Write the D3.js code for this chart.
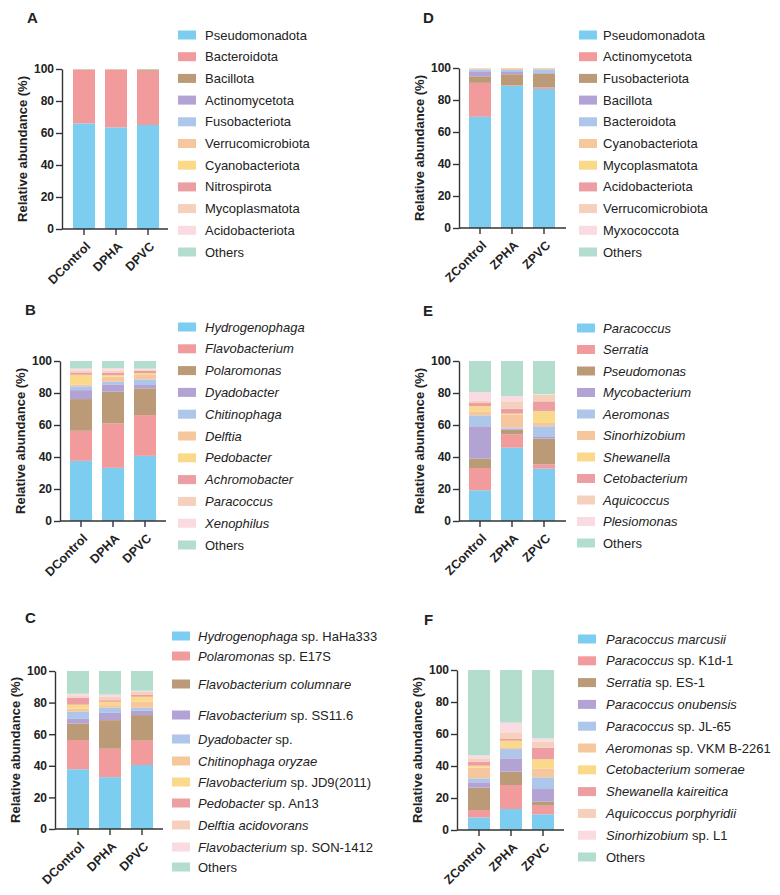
<!DOCTYPE html>
<html>
<head>
<meta charset="utf-8">
<script src="https://cdn.jsdelivr.net/npm/d3@7"></script>
<style>
  body { margin: 0; background: #fff; }
  text { font-family: "Liberation Sans", Arial, sans-serif; fill: #222; }
</style>
</head>
<body>
<svg id="chart" width="780" height="895"></svg>
<script>
// groups on the x axis
const groupsD = ["DControl", "DPHA", "DPVC"];
const groupsZ = ["ZControl", "ZPHA", "ZPVC"];
const yTicks = [0, 20, 40, 60, 80, 100];

// one colour per stack position (bottom -> top)
const palette = ["#7dcdf1", "#f29b9c", "#bb9a78", "#b3a3d4", "#adc6ea", "#f6c69c",
                 "#fbd98b", "#ec9ea2", "#f5d0bd", "#fadbe1", "#b3decd"];

// names use *...* for the italic part
const taxaA = ["Pseudomonadota", "Bacteroidota", "Bacillota", "Actinomycetota", "Fusobacteriota",
  "Verrucomicrobiota", "Cyanobacteriota", "Nitrospirota", "Mycoplasmatota", "Acidobacteriota", "Others"];
const valuesA = [
  [66.0, 33.5, 0.2, 0.1, 0.05, 0.03, 0.02, 0.02, 0.02, 0.01, 0.05],
  [63.5, 36.1, 0.15, 0.05, 0.05, 0.03, 0.02, 0.02, 0.02, 0.01, 0.05],
  [65.0, 33.9, 0.8, 0.05, 0.05, 0.03, 0.02, 0.02, 0.02, 0.01, 0.1]
];

const taxaB = ["*Hydrogenophaga*", "*Flavobacterium*", "*Polaromonas*", "*Dyadobacter*", "*Chitinophaga*",
  "*Delftia*", "*Pedobacter*", "*Achromobacter*", "*Paracoccus*", "*Xenophilus*", "Others"];
const valuesB = [
  [37.6, 18.8, 19.8, 5.6, 2.4, 1.2, 6.0, 1.4, 1.0, 1.5, 4.7],
  [33.2, 27.8, 19.8, 4.6, 1.6, 3.2, 1.0, 1.5, 1.3, 1.6, 4.4],
  [40.7, 25.5, 16.7, 2.1, 3.5, 3.2, 0.8, 1.3, 0.8, 0.6, 4.8]
];

const taxaC = ["*Hydrogenophaga* sp. HaHa333", "*Polaromonas* sp. E17S", "*Flavobacterium columnare*",
  "*Flavobacterium* sp. SS11.6", "*Dyadobacter* sp.", "*Chitinophaga oryzae*", "*Flavobacterium* sp. JD9(2011)",
  "*Pedobacter* sp. An13", "*Delftia acidovorans*", "*Flavobacterium* sp. SON-1412", "Others"];
const valuesC = [
  [37.8, 18.5, 10.5, 3.2, 4.2, 2.0, 2.5, 4.4, 1.0, 1.5, 14.4],
  [32.8, 18.0, 18.1, 4.6, 3.2, 1.7, 2.1, 1.0, 2.1, 1.5, 14.9],
  [40.5, 15.4, 16.2, 2.7, 1.9, 3.8, 3.2, 1.3, 1.7, 0.8, 12.5]
];

const taxaD = ["Pseudomonadota", "Actinomycetota", "Fusobacteriota", "Bacillota", "Bacteroidota",
  "Cyanobacteriota", "Mycoplasmatota", "Acidobacteriota", "Verrucomicrobiota", "Myxococcota", "Others"];
const valuesD = [
  [69.5, 21.2, 4.1, 2.7, 1.5, 0.5, 0.2, 0.1, 0.1, 0.05, 0.05],
  [88.8, 0.4, 6.9, 1.4, 1.3, 0.9, 0.1, 0.1, 0.05, 0.02, 0.03],
  [86.9, 0.9, 8.7, 0.4, 2.3, 0.5, 0.1, 0.1, 0.05, 0.02, 0.03]
];

const taxaE = ["*Paracoccus*", "*Serratia*", "*Pseudomonas*", "*Mycobacterium*", "*Aeromonas*",
  "*Sinorhizobium*", "*Shewanella*", "*Cetobacterium*", "*Aquicoccus*", "*Plesiomonas*", "Others"];
const valuesE = [
  [19.2, 13.9, 5.9, 20.2, 6.8, 2.5, 3.2, 2.1, 1.3, 5.4, 19.5],
  [45.8, 8.4, 2.9, 0.6, 0.8, 8.0, 0.6, 3.1, 4.6, 3.3, 21.9],
  [32.7, 2.7, 16.1, 1.0, 6.7, 2.1, 7.5, 6.0, 4.2, 0.3, 20.7]
];

const taxaF = ["*Paracoccus marcusii*", "*Paracoccus* sp. K1d-1", "*Serratia* sp. ES-1", "*Paracoccus onubensis*",
  "*Paracoccus* sp. JL-65", "*Aeromonas* sp. VKM B-2261", "*Cetobacterium somerae*", "*Shewanella kaireitica*",
  "*Aquicoccus porphyridii*", "*Sinorhizobium* sp. L1", "Others"];
const valuesF = [
  [7.9, 4.6, 14.0, 3.3, 2.5, 6.7, 1.2, 2.5, 2.1, 1.9, 53.3],
  [13.1, 15.0, 8.4, 8.3, 5.8, 1.1, 4.1, 1.1, 4.1, 6.1, 32.9],
  [9.8, 5.4, 2.5, 7.9, 7.3, 5.6, 5.7, 7.3, 3.7, 2.1, 42.7]
];

// layout of each panel
const panels = [
  { id: "A", taxa: taxaA, values: valuesA, groups: groupsD, ax: 62, top: 69, bottom: 229, band: 68, axEnd: 168,
    lab: [27, 23], legX: 178, legTx: 205, legY: d3.range(11).map(i => 35 + i * 21.7) },
  { id: "B", taxa: taxaB, values: valuesB, groups: groupsD, ax: 60, top: 361, bottom: 521, band: 65, axEnd: 166,
    lab: [25, 315], legX: 178, legTx: 205, legY: d3.range(11).map(i => 327 + i * 21.8) },
  { id: "C", taxa: taxaC, values: valuesC, groups: groupsD, ax: 55, top: 671, bottom: 829, band: 62, axEnd: 163,
    lab: [25, 623], legX: 172, legTx: 198, legY: [636, 656, 684, 715, 739, 761, 782, 803, 825, 847, 867] },
  { id: "D", taxa: taxaD, values: valuesD, groups: groupsZ, ax: 459, top: 68, bottom: 228, band: 464, axEnd: 566,
    lab: [423, 23], legX: 579, legTx: 603, legY: d3.range(11).map(i => 35 + i * 21.7) },
  { id: "E", taxa: taxaE, values: valuesE, groups: groupsZ, ax: 459, top: 361, bottom: 521, band: 464, axEnd: 566,
    lab: [423, 316], legX: 577, legTx: 603, legY: d3.range(11).map(i => 328 + i * 21.5) },
  { id: "F", taxa: taxaF, values: valuesF, groups: groupsZ, ax: 457, top: 670, bottom: 830, band: 463, axEnd: 564,
    lab: [424, 625], legX: 578, legTx: 606, legY: d3.range(11).map(i => 639 + i * 21.8) }
];

const svg = d3.select("#chart");

panels.forEach(p => {
  const g = svg.append("g");

  const rows = p.groups.map((grp, gi) => {
    const r = { group: grp };
    p.taxa.forEach((t, ti) => r[t] = p.values[gi][ti]);
    return r;
  });
  const series = d3.stack().keys(p.taxa)(rows);

  const x = d3.scaleBand().domain(p.groups)
    .range([p.band, p.band + 96]).paddingInner(0.3125).paddingOuter(0.15625);
  const y = d3.scaleLinear().domain([0, 100]).range([p.bottom, p.top]);

  // bars
  g.append("g").selectAll("g")
    .data(series)
    .enter().append("g")
    .attr("fill", (d, i) => palette[i])
    .selectAll("rect")
    .data(d => d)
    .enter().append("rect")
    .attr("x", d => x(d.data.group))
    .attr("width", x.bandwidth())
    .attr("y", d => y(d[1]))
    .attr("height", d => Math.max(0, y(d[0]) - y(d[1])));

  // y axis
  const yAxis = g.append("g")
    .attr("transform", `translate(${p.ax},0)`)
    .call(d3.axisLeft(y).tickValues(yTicks).tickSize(6).tickPadding(2).tickSizeOuter(0));
  yAxis.select(".domain").attr("stroke", "#333").attr("stroke-width", 1.4);
  yAxis.selectAll(".tick line").attr("stroke", "#333").attr("stroke-width", 1.4);
  yAxis.selectAll(".tick text")
    .style("font-size", "12px").style("font-weight", "bold").attr("fill", "#222")
    .style("font-family", "'Liberation Sans', Arial, sans-serif");

  // x axis
  g.append("line")
    .attr("x1", p.ax).attr("x2", p.axEnd)
    .attr("y1", p.bottom).attr("y2", p.bottom)
    .attr("stroke", "#333").attr("stroke-width", 1.4);
  g.append("g").selectAll("line")
    .data(p.groups)
    .enter().append("line")
    .attr("x1", d => x(d) + x.bandwidth() / 2).attr("x2", d => x(d) + x.bandwidth() / 2)
    .attr("y1", p.bottom).attr("y2", p.bottom + 6)
    .attr("stroke", "#333").attr("stroke-width", 1.4);
  g.append("g").selectAll("text")
    .data(p.groups)
    .enter().append("text")
    .attr("transform", d => `translate(${x(d) + x.bandwidth() / 2 + 4},${p.bottom + 15}) rotate(-45)`)
    .attr("dy", "0.35em")
    .style("text-anchor", "end")
    .style("font-size", "12.5px")
    .style("font-weight", "bold")
    .text(d => d);

  // y title
  g.append("text")
    .attr("transform", `translate(${p.ax - 40},${(p.top + p.bottom) / 2}) rotate(-90)`)
    .attr("dy", "0.35em")
    .style("text-anchor", "middle")
    .style("font-size", "13px")
    .style("font-weight", "bold")
    .text("Relative abundance (%)");

  // panel letter
  g.append("text")
    .attr("x", p.lab[0]).attr("y", p.lab[1])
    .style("font-size", "15px")
    .style("font-weight", "bold")
    .text(p.id);

  // legend
  const leg = g.append("g").selectAll("g")
    .data(p.taxa)
    .enter().append("g")
    .attr("transform", (d, i) => `translate(0,${p.legY[i]})`);
  leg.append("rect")
    .attr("x", p.legX).attr("y", -4.5)
    .attr("width", 18).attr("height", 9)
    .attr("fill", (d, i) => palette[i]);
  const lt = leg.append("text")
    .attr("x", p.legTx)
    .attr("dy", "0.35em")
    .style("font-size", "13px")
    .attr("fill", "#333");
  lt.each(function (d) {
    const parts = d.split("*");
    const t = d3.select(this);
    parts.forEach((s, k) => {
      if (!s) return;
      t.append("tspan")
        .style("font-style", k % 2 === 1 ? "italic" : "normal")
        .text(s);
    });
  });
});
</script>
</body>
</html>
